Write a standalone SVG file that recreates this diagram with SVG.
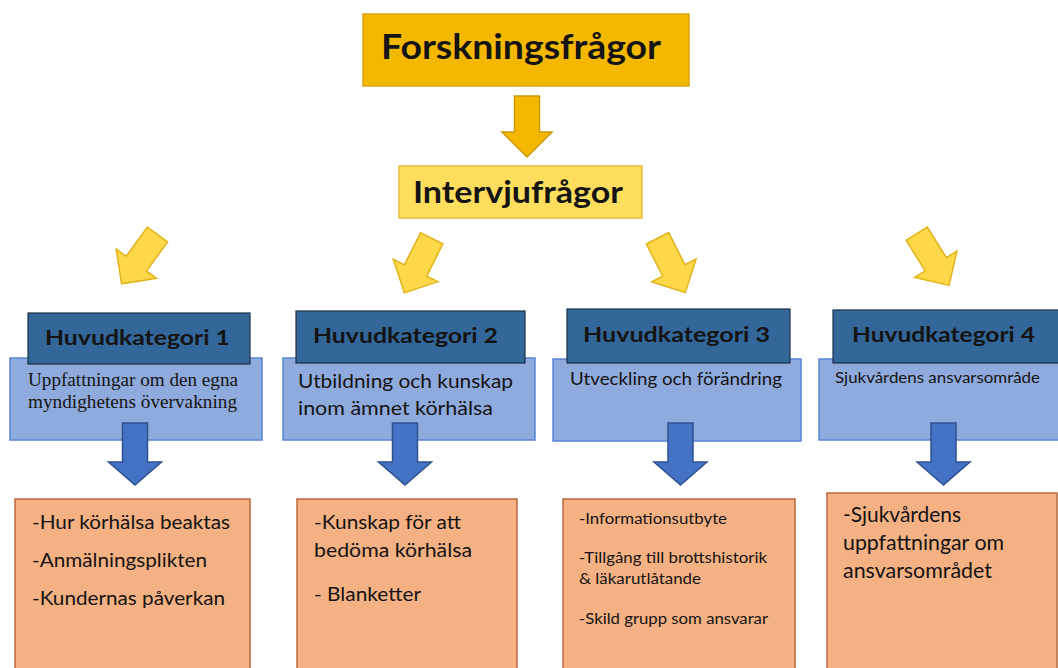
<svg xmlns="http://www.w3.org/2000/svg" width="1058" height="668" viewBox="0 0 1058 668">
<defs>
<style>
.t{font-family:Lato,"Open Sans","Liberation Sans",sans-serif;fill:#141414}
.b{font-weight:700}
.serif{font-family:"Liberation Serif","DejaVu Serif",serif;fill:#141414}
.hdr{fill:#336699;stroke:#1c2f44;stroke-width:1.2}
.sub{fill:#8faadc;stroke:#5a86d2;stroke-width:1.5}
.org{fill:#f4b183;stroke:#b9693c;stroke-width:1.5}
.ya{fill:#ffd84a;stroke:#e2b31a;stroke-width:1.5;stroke-linejoin:miter}
.ga{fill:#f5b800;stroke:#c99a00;stroke-width:1.5}
.ba{fill:#4472c4;stroke:#2f528f;stroke-width:1.5}
</style>
<polygon id="arr" points="-12.5,0 12.5,0 12.5,36 25,36 0,61 -25,36 -12.5,36"/>
<polygon id="barr" points="-12.5,0 12.5,0 12.5,39 26.5,39 0,62 -26.5,39 -12.5,39"/>
</defs>
<rect width="1058" height="668" fill="#ffffff"/>

<g id="forskningsfragor">
<rect x="363" y="14" width="326" height="72" fill="#f5b800" stroke="#d9a514" stroke-width="1.5"/>
<text class="t b" x="381" y="59" font-size="34" textLength="280" lengthAdjust="spacingAndGlyphs">Forskningsfrågor</text>
</g>

<g id="intervjufragor">
<rect x="399" y="166" width="243" height="52" fill="#ffde5e" stroke="#e6be3c" stroke-width="1.5"/>
<text class="t b" x="413" y="203" font-size="30" textLength="210" lengthAdjust="spacingAndGlyphs">Intervjufrågor</text>
</g>

<g id="kat1">
<rect class="sub" x="10" y="358" width="252" height="82"/>
<rect class="hdr" x="28" y="313" width="222" height="51"/>
<text class="t b" x="45" y="345" font-size="21.5" textLength="185" lengthAdjust="spacingAndGlyphs">Huvudkategori 1</text>
<text class="serif" x="28" y="386" font-size="18.5" textLength="210" lengthAdjust="spacingAndGlyphs">Uppfattningar om den egna</text>
<text class="serif" x="28" y="408" font-size="18.5" textLength="209" lengthAdjust="spacingAndGlyphs">myndighetens övervakning</text>
</g>

<g id="kat2">
<rect class="sub" x="283" y="358" width="252" height="82"/>
<rect class="hdr" x="296" y="311" width="229" height="52"/>
<text class="t b" x="313" y="343" font-size="21.5" textLength="185" lengthAdjust="spacingAndGlyphs">Huvudkategori 2</text>
<text class="t" x="298" y="388" font-size="20" textLength="215" lengthAdjust="spacingAndGlyphs">Utbildning och kunskap</text>
<text class="t" x="298" y="415" font-size="20" textLength="195" lengthAdjust="spacingAndGlyphs">inom ämnet körhälsa</text>
</g>

<g id="kat3">
<rect class="sub" x="553" y="359" width="248" height="82"/>
<rect class="hdr" x="567" y="309" width="223" height="54"/>
<text class="t b" x="583" y="342" font-size="21.5" textLength="187" lengthAdjust="spacingAndGlyphs">Huvudkategori 3</text>
<text class="t" x="570" y="385" font-size="17.5" textLength="212" lengthAdjust="spacingAndGlyphs">Utveckling och förändring</text>
</g>

<g id="kat4">
<rect class="sub" x="819" y="359" width="245" height="81"/>
<rect class="hdr" x="833" y="310" width="231" height="53"/>
<text class="t b" x="852" y="342" font-size="21.5" textLength="183" lengthAdjust="spacingAndGlyphs">Huvudkategori 4</text>
<text class="t" x="835" y="383" font-size="15.5" textLength="205" lengthAdjust="spacingAndGlyphs">Sjukvårdens ansvarsområde</text>
</g>

<g id="res1">
<rect class="org" x="15" y="499" width="235" height="175"/>
<text class="t" x="32" y="529" font-size="19.5" textLength="198" lengthAdjust="spacingAndGlyphs">-Hur körhälsa beaktas</text>
<text class="t" x="32" y="567" font-size="19.5" textLength="175" lengthAdjust="spacingAndGlyphs">-Anmälningsplikten</text>
<text class="t" x="32" y="605" font-size="19.5" textLength="193" lengthAdjust="spacingAndGlyphs">-Kundernas påverkan</text>
</g>

<g id="res2">
<rect class="org" x="297" y="499" width="220" height="175"/>
<text class="t" x="314" y="529" font-size="19.5" textLength="147" lengthAdjust="spacingAndGlyphs">-Kunskap för att</text>
<text class="t" x="314" y="557" font-size="19.5" textLength="158" lengthAdjust="spacingAndGlyphs">bedöma körhälsa</text>
<text class="t" x="314" y="601" font-size="19.5" textLength="107" lengthAdjust="spacingAndGlyphs">- Blanketter</text>
</g>

<g id="res3">
<rect class="org" x="563" y="499" width="232" height="175"/>
<text class="t" x="579" y="524" font-size="14.5" textLength="148" lengthAdjust="spacingAndGlyphs">-Informationsutbyte</text>
<text class="t" x="579" y="563" font-size="14.5" textLength="188" lengthAdjust="spacingAndGlyphs">-Tillgång till brottshistorik</text>
<text class="t" x="579" y="584" font-size="14.5" textLength="122" lengthAdjust="spacingAndGlyphs">&amp; läkarutlåtande</text>
<text class="t" x="579" y="624" font-size="14.5" textLength="189" lengthAdjust="spacingAndGlyphs">-Skild grupp som ansvarar</text>
</g>

<g id="res4">
<rect class="org" x="827" y="493" width="230" height="181"/>
<text class="t" x="843" y="522" font-size="20.5" textLength="118" lengthAdjust="spacingAndGlyphs">-Sjukvårdens</text>
<text class="t" x="843" y="550" font-size="20.5" textLength="161" lengthAdjust="spacingAndGlyphs">uppfattningar om</text>
<text class="t" x="843" y="578" font-size="20.5" textLength="149" lengthAdjust="spacingAndGlyphs">ansvarsområdet</text>
</g>

<g id="connectors">
<use href="#arr" class="ga" transform="translate(527,96)"/>
<use href="#arr" class="ya" transform="translate(157.5,234.5) rotate(36)"/>
<use href="#arr" class="ya" transform="translate(431.7,238.3) rotate(26.6)"/>
<use href="#arr" class="ya" transform="translate(657.5,238.3) rotate(-27)"/>
<use href="#arr" class="ya" transform="translate(916.7,233.7) rotate(-32)"/>
<use href="#barr" class="ba" transform="translate(135,423)"/>
<use href="#barr" class="ba" transform="translate(405,423)"/>
<use href="#barr" class="ba" transform="translate(680.5,423)"/>
<use href="#barr" class="ba" transform="translate(943.5,423)"/>
</g>
</svg>
